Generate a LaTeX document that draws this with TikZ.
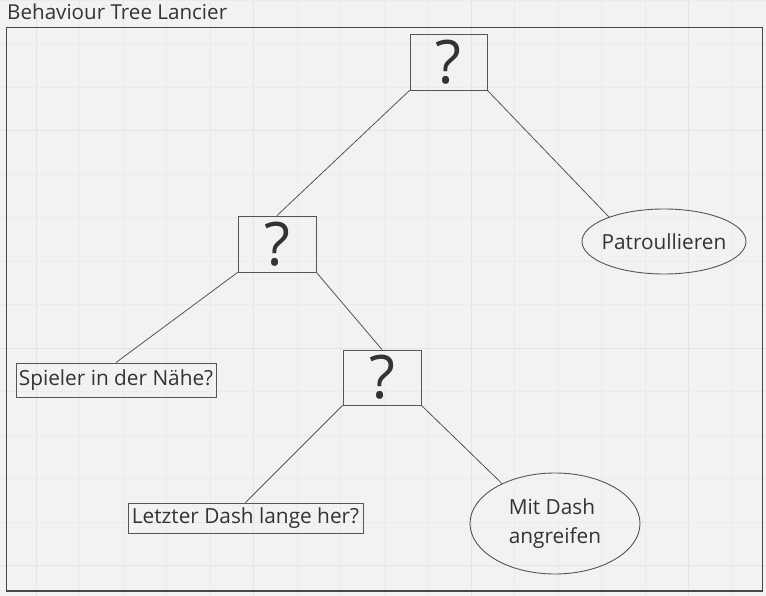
\documentclass[tikz,border=0pt]{standalone}
\usepackage{fontspec}
\setmainfont{Open Sans}
\usetikzlibrary{shapes.geometric}
\definecolor{bg}{HTML}{F2F2F2}
\definecolor{gridminor}{HTML}{EBEBEB}
\definecolor{gridmajor}{HTML}{E4E4E4}
\definecolor{ink}{HTML}{333333}
\definecolor{edge}{HTML}{555555}
\begin{document}
\begin{tikzpicture}[x=1pt,y=-1pt,
  qbox/.style={draw=edge,line width=0.9pt,rectangle,inner sep=0pt,text=ink,font=\fontsize{60}{60}\selectfont},
  lbox/.style={draw=edge,line width=0.9pt,rectangle,inner sep=0pt,text=ink,font=\fontsize{20.8}{24}\selectfont},
  ebox/.style={draw=edge,line width=0.9pt,ellipse,inner sep=0pt,text=ink,font=\fontsize{20.8}{28.5}\selectfont},
  conn/.style={draw=edge,line width=0.8pt}]
\useasboundingbox (0,0) rectangle (766,596);
\fill[bg] (0,0) rectangle (766,596);
% grid
\foreach \i in {0,...,17} {
  \pgfmathsetmacro{\gx}{36+43.53*(\i-0)}
  \pgfmathtruncatemacro{\maj}{mod(\i,5)==0}
  \ifnum\maj=1
    \draw[gridmajor,line width=1pt] (\gx,0) -- (\gx,596);
  \else
    \draw[gridminor,line width=0.8pt] (\gx,0) -- (\gx,596);
  \fi
}
\foreach \i in {0,...,13} {
  \pgfmathsetmacro{\gy}{0.1+43.52*\i}
  \pgfmathtruncatemacro{\maj}{mod(\i,5)==3}
  \ifnum\maj=1
    \draw[gridmajor,line width=1pt] (0,\gy) -- (766,\gy);
  \else
    \draw[gridminor,line width=0.8pt] (0,\gy) -- (766,\gy);
  \fi
}
% frame
\draw[draw=ink!90,line width=1.3pt] (6.5,27.5) rectangle (762.5,591);
\node[anchor=base west,inner sep=0pt,text=ink,font=\fontsize{20.6}{24}\selectfont] (title) at (7,20) {Behaviour Tree Lancier};
% nodes
\node[qbox,minimum width=77pt,minimum height=56pt] (root) at (448.5,62) {?};
\node[qbox,minimum width=78pt,minimum height=56pt] (q2) at (277,244) {?};
\node[qbox,minimum width=78pt,minimum height=55pt] (q3) at (382,377.5) {?};
\node[lbox,minimum width=200pt,minimum height=34pt] (spieler) at (116,380) {Spieler in der Nähe?};
\node[lbox,minimum width=235pt,minimum height=30pt] (letzter) at (245.5,518) {Letzter Dash lange her?};
\node[ebox,inner xsep=-8pt,minimum width=164pt,minimum height=65pt] (patrol) at (664,241.5) {Patroullieren};
\node[ebox,minimum width=170pt,minimum height=101pt,align=left] (mit) at (555,523.5) {Mit Dash\\angreifen};
% connectors
\draw[conn] (root.south west) -- (q2.north);
\draw[conn] (root.south east) -- (patrol.156);
\draw[conn] (q2.south west) -- (spieler.north);
\draw[conn] (q2.south east) -- (q3.north);
\draw[conn] (q3.south west) -- (letzter.north);
\draw[conn] (q3.south east) -- (mit.143);
\end{tikzpicture}
\end{document}
